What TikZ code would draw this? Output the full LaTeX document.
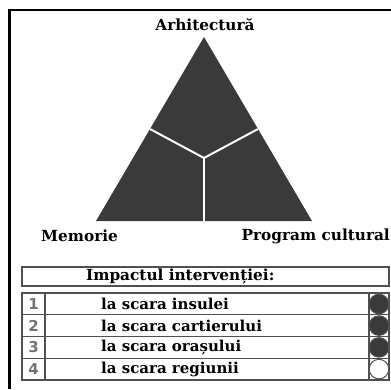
\documentclass[tikz,border=0pt]{standalone}
\usepackage{fontspec}
\setmainfont{DejaVu Serif}
\setsansfont{DejaVu Sans}
\usetikzlibrary{calc}
\definecolor{tridark}{HTML}{3A3A3A}
\definecolor{tabline}{HTML}{505050}
\tikzset{
  headlbl/.style={font=\fontsize{15.3}{17}\selectfont\bfseries, inner sep=0pt},
  rowlbl/.style={font=\fontsize{15}{17}\selectfont\bfseries, inner sep=0pt, anchor=west},
  numlbl/.style={font=\sffamily\fontsize{15}{17}\selectfont\bfseries, text=black!55, inner sep=0pt},
  tabbox/.style={draw=tabline, line width=1.3pt},
  dot/.style={draw=tabline, line width=1pt, fill=tridark}
}

\begin{document}
\begin{tikzpicture}[x=1pt, y=-1pt]
			%%%%% START %%%%%
			\useasboundingbox (0, 0) rectangle (391, 389);
			
			% frame
			\draw[line width=2.5pt] (9.5, 389) -- (9.5, 10) -- (391, 10);
			
			% triangle
			\coordinate (apex) at (204, 37);
			\coordinate (bl) at (96, 221);
			\coordinate (br) at (312, 221);
			\coordinate (mid) at (204, 158);
			\fill[tridark] (apex) -- (bl) -- (br) -- cycle;
			\draw[white, line width=2pt] ($(apex)!0.5!(bl)$) -- (mid) -- ($(apex)!0.5!(br)$);
			\draw[white, line width=2pt] (mid) -- (204, 221);
			
			\node[headlbl] (arh) at (205, 25) {Arhitectură};
			\node[headlbl, anchor=west] (mem) at (41, 236) {Memorie};
			\node[headlbl, anchor=east] (prog) at (390, 236) {Program cultural};
			
			% impact table
			\draw[tabbox] (22, 267) rectangle (389, 286);
			\node[headlbl, anchor=west] (imp) at (86, 276.5) {Impactul intervenției:};
			
			\draw[tabbox] (22, 293) rectangle (389, 380);
			\draw[tabbox] (22, 314.75) -- (389, 314.75);
			\draw[tabbox] (22, 336.5) -- (389, 336.5);
			\draw[tabbox] (22, 358.25) -- (389, 358.25);
			\draw[tabbox] (45, 293) -- (45, 380);
			\draw[tabbox] (369, 293) -- (369, 380);
			
			\node[numlbl] (n1) at (33.5, 304) {1};
			\node[numlbl] (n2) at (33.5, 325.6) {2};
			\node[numlbl] (n3) at (33.5, 347.4) {3};
			\node[numlbl] (n4) at (33.5, 369.1) {4};
			
			\node[rowlbl] (r1) at (101, 304) {la scara insulei};
			\node[rowlbl] (r2) at (101, 325.6) {la scara cartierului};
			\node[rowlbl] (r3) at (101, 347.4) {la scara orașului};
			\node[rowlbl] (r4) at (101, 369.1) {la scara regiunii};
			
			\draw[dot] (379, 304) circle (9.8pt);
			\draw[dot] (379, 325.6) circle (9.8pt);
			\draw[dot] (379, 347.4) circle (9.8pt);
			\draw[dot, fill=white] (379, 369.1) circle (9.8pt);
			
			%%%%% END %%%%%
		\end{tikzpicture}
\end{document}
